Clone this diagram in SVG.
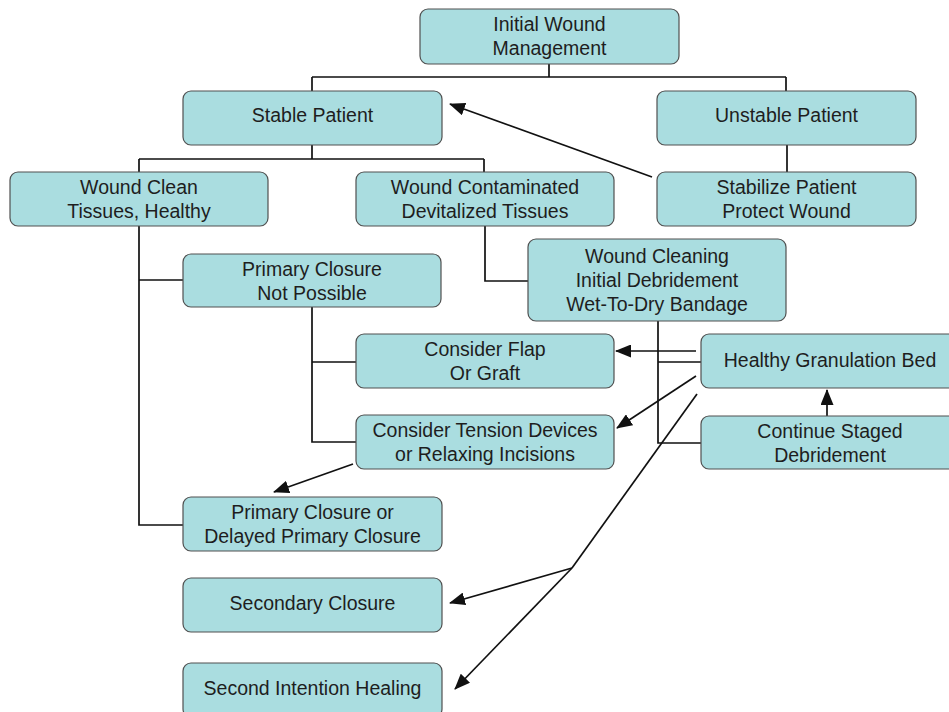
<svg xmlns="http://www.w3.org/2000/svg" width="949" height="712" viewBox="0 0 949 712">
<defs>
<style>
.box{fill:#AADDE0;stroke:#505050;stroke-width:1.2}
.t{font-family:"Liberation Sans",Arial,sans-serif;font-size:19.5px;fill:#1e1e1e;text-anchor:middle}
.c{fill:none;stroke:#111;stroke-width:1.7}
.a{fill:none;stroke:#111;stroke-width:1.7;marker-end:url(#ah)}
</style>
<marker id="ah" markerWidth="16" markerHeight="13" refX="15" refY="6.5" orient="auto" markerUnits="userSpaceOnUse">
<path d="M0,0 L16,6.5 L0,13 Z" fill="#111"/>
</marker>
</defs>
<rect width="949" height="712" fill="#fff"/>
<g id="connectors">
<path class="c" d="M549,64 V77 M312,77 H786 M312,77 V91 M786,77 V91"/>
<path class="c" d="M312,145 V159 M139,159 H484 M139,159 V172 M484,159 V172"/>
<path class="c" d="M787,145 V172"/>
<path class="c" d="M485,226 V281 H528"/>
<path class="c" d="M139,226 V525 H183 M139,280 H183"/>
<path class="c" d="M312,307 V442 H356 M312,362 H356"/>
<path class="c" d="M658,321 V443 H701 M658,362 H701"/>
<path class="a" d="M652,177 L450,104"/>
<path class="a" d="M696,351 L616,351"/>
<path class="a" d="M696,376 L617,428"/>
<path class="a" d="M827,416 V390"/>
<path class="a" d="M353,464 L274,492"/>
<path class="c" d="M697,394 L572,568"/>
<path class="a" d="M572,568 L450,603"/>
<path class="a" d="M572,568 L455,689"/>
</g>
<g id="n1"><rect class="box" x="420" y="9" width="259" height="55" rx="8"/><text class="t" x="549.5" y="31">Initial Wound</text><text class="t" x="549.5" y="55">Management</text></g>
<g id="n2"><rect class="box" x="183" y="91" width="259" height="54" rx="8"/><text class="t" x="312.5" y="122">Stable Patient</text></g>
<g id="n3"><rect class="box" x="657" y="91" width="259" height="54" rx="8"/><text class="t" x="786.5" y="122">Unstable Patient</text></g>
<g id="n4"><rect class="box" x="10" y="172" width="258" height="54" rx="8"/><text class="t" x="139" y="194">Wound Clean</text><text class="t" x="139" y="218">Tissues, Healthy</text></g>
<g id="n5"><rect class="box" x="356" y="172" width="258" height="54" rx="8"/><text class="t" x="485" y="194">Wound Contaminated</text><text class="t" x="485" y="218">Devitalized Tissues</text></g>
<g id="n6"><rect class="box" x="657" y="172" width="259" height="54" rx="8"/><text class="t" x="786.5" y="194">Stabilize Patient</text><text class="t" x="786.5" y="218">Protect Wound</text></g>
<g id="n7"><rect class="box" x="528" y="239" width="258" height="82" rx="8"/><text class="t" x="657" y="263">Wound Cleaning</text><text class="t" x="657" y="287">Initial Debridement</text><text class="t" x="657" y="311">Wet-To-Dry Bandage</text></g>
<g id="n8"><rect class="box" x="183" y="254" width="258" height="53" rx="8"/><text class="t" x="312" y="276">Primary Closure</text><text class="t" x="312" y="300">Not Possible</text></g>
<g id="n9"><rect class="box" x="356" y="334" width="258" height="54" rx="8"/><text class="t" x="485" y="356">Consider Flap</text><text class="t" x="485" y="380">Or Graft</text></g>
<g id="n10"><rect class="box" x="701" y="334" width="258" height="54" rx="8"/><text class="t" x="830" y="367">Healthy Granulation Bed</text></g>
<g id="n11"><rect class="box" x="356" y="415" width="258" height="54" rx="8"/><text class="t" x="485" y="437">Consider Tension Devices</text><text class="t" x="485" y="461">or Relaxing Incisions</text></g>
<g id="n12"><rect class="box" x="701" y="416" width="258" height="53" rx="8"/><text class="t" x="830" y="438">Continue Staged</text><text class="t" x="830" y="462">Debridement</text></g>
<g id="n13"><rect class="box" x="183" y="497" width="259" height="54" rx="8"/><text class="t" x="312.5" y="519">Primary Closure or</text><text class="t" x="312.5" y="543">Delayed Primary Closure</text></g>
<g id="n14"><rect class="box" x="183" y="578" width="259" height="54" rx="8"/><text class="t" x="312.5" y="610">Secondary Closure</text></g>
<g id="n15"><rect class="box" x="183" y="663" width="259" height="54" rx="8"/><text class="t" x="312.5" y="695">Second Intention Healing</text></g>
</svg>
